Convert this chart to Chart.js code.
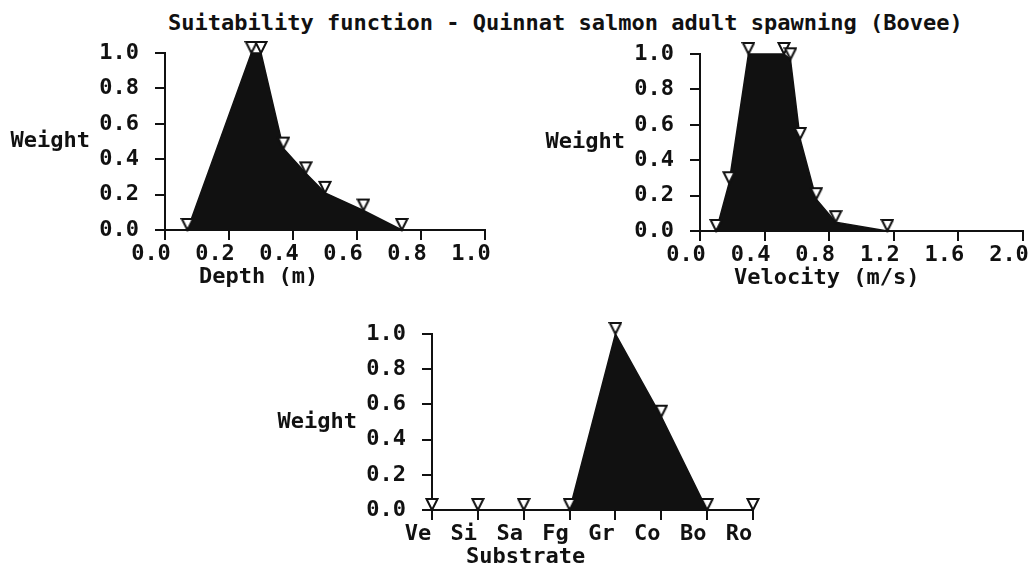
<!DOCTYPE html>
<html>
<head>
<meta charset="utf-8">
<title>Suitability function - Quinnat salmon adult spawning (Bovee)</title>
<script src="https://cdn.jsdelivr.net/npm/chart.js@4.4.1/dist/chart.umd.min.js"></script>
<style>
    body { margin: 0; background: #fff; width: 1032px; height: 565px; position: relative; overflow: hidden; }
    #title {
        position: absolute; left: 168px; top: 12px;
        font: bold 22px/22px "DejaVu Sans Mono", monospace;
        color: #111; white-space: nowrap;
    }
    .panel { position: absolute; }
</style>
</head>
<body>
<div id="title">Suitability function - Quinnat salmon adult spawning (Bovee)</div>
<div class="panel" style="left:0;top:30px"><canvas id="depth" width="520" height="270"></canvas></div>
<div class="panel" style="left:520px;top:30px"><canvas id="velocity" width="512" height="270"></canvas></div>
<div class="panel" style="left:250px;top:300px"><canvas id="substrate" width="530" height="265"></canvas></div>

<script>
// Data
const depthX = [0.07, 0.27, 0.30, 0.37, 0.44, 0.50, 0.62, 0.74];
const depthW = [0, 1.0, 1.0, 0.46, 0.32, 0.21, 0.11, 0];

const velocityX = [0.10, 0.18, 0.30, 0.52, 0.56, 0.62, 0.72, 0.84, 1.16];
const velocityW = [0, 0.27, 1.0, 1.0, 0.97, 0.52, 0.18, 0.05, 0];

const substrateCats = ['Ve', 'Si', 'Sa', 'Fg', 'Gr', 'Co', 'Bo', 'Ro'];
const substrateW = [0, 0, 0, 0, 1.0, 0.53, 0, 0];

const INK = '#111111';
const FONT = { family: '"DejaVu Sans Mono", monospace', size: 22, weight: 'bold' };
const FONT_CSS = 'bold 22px "DejaVu Sans Mono", monospace';

Chart.defaults.font.family = FONT.family;
Chart.defaults.color = INK;

// Open down-pointing triangle; apex sits on the image centre = data point
function makeMarker() {
    const c = document.createElement('canvas');
    c.width = 14;
    c.height = 26;
    const ctx = c.getContext('2d');
    ctx.beginPath();
    ctx.moveTo(1.5, 2);
    ctx.lineTo(12.5, 2);
    ctx.lineTo(7, 13);
    ctx.closePath();
    ctx.fillStyle = '#fff';
    ctx.fill();
    ctx.lineWidth = 2;
    ctx.lineJoin = 'miter';
    ctx.strokeStyle = INK;
    ctx.stroke();
    return c;
}
const MARKER = makeMarker();

// Horizontal "Weight" label left of the axis, x title under the ticks
const axisLabels = {
    id: 'axisLabels',
    afterDraw(chart, args, opts) {
        const { ctx, chartArea: a } = chart;
        ctx.save();
        ctx.font = FONT_CSS;
        ctx.fillStyle = INK;
        ctx.textBaseline = 'middle';
        ctx.textAlign = 'right';
        ctx.fillText(opts.y, a.left - 75, (a.top + a.bottom) / 2);
        ctx.textAlign = 'left';
        ctx.fillText(opts.x, a.left + 34, a.bottom + 47);
        ctx.restore();
    },
};

function axisStyle() {
    return {
        grid: { drawOnChartArea: false, drawTicks: true, tickLength: 10, color: INK, lineWidth: 2 },
        border: { color: INK, width: 2 },
    };
}

function makeScales(x, xHeight) {
    return {
        x: {
            ...x,
            ...axisStyle(),
            ticks: {
                ...(x.ticks || {}),
                font: FONT, color: INK, padding: 1, labelOffset: -14,
                maxRotation: 0, autoSkip: false,
            },
            afterFit: (s) => { s.height = xHeight; s.paddingLeft = 0; s.paddingRight = 0; },
        },
        y: {
            type: 'linear', min: 0, max: 1,
            ...axisStyle(),
            ticks: { stepSize: 0.2, font: FONT, color: INK, padding: 16, callback: (v) => v.toFixed(1) },
            afterFit: (s) => { s.width = 65; s.paddingTop = 0; s.paddingBottom = 0; },
        },
    };
}

function lineDataset(data) {
    return {
        data,
        borderColor: INK,
        borderWidth: 1.5,
        backgroundColor: INK,
        fill: 'origin',
        tension: 0,
        pointStyle: MARKER,
        pointRadius: 6,
        clip: false,
    };
}

function baseOptions(padding, scales, labels) {
    return {
        responsive: false,
        animation: false,
        events: [],
        layout: { padding },
        scales,
        plugins: {
            legend: { display: false },
            tooltip: { enabled: false },
            axisLabels: labels,
        },
    };
}

new Chart(document.getElementById('depth'), {
    type: 'line',
    data: { datasets: [lineDataset(depthX.map((x, i) => ({ x, y: depthW[i] })))] },
    options: baseOptions(
        { left: 100, top: 23, right: 35, bottom: 10 },
        makeScales({ type: 'linear', min: 0, max: 1, ticks: { stepSize: 0.2, callback: (v) => v.toFixed(1) } }, 60),
        { x: 'Depth (m)', y: 'Weight' }
    ),
    plugins: [axisLabels],
});

new Chart(document.getElementById('velocity'), {
    type: 'line',
    data: { datasets: [lineDataset(velocityX.map((x, i) => ({ x, y: velocityW[i] })))] },
    options: baseOptions(
        { left: 115, top: 24, right: 9, bottom: 9 },
        makeScales({ type: 'linear', min: 0, max: 2, ticks: { stepSize: 0.4, callback: (v) => v.toFixed(1) } }, 60),
        { x: 'Velocity (m/s)', y: 'Weight' }
    ),
    plugins: [axisLabels],
});

new Chart(document.getElementById('substrate'), {
    type: 'line',
    data: { labels: substrateCats, datasets: [lineDataset(substrateW)] },
    options: baseOptions(
        { left: 117, top: 34, right: 27, bottom: 0 },
        makeScales({ type: 'category', offset: false }, 55),
        { x: 'Substrate', y: 'Weight' }
    ),
    plugins: [axisLabels],
});
</script>
</body>
</html>
